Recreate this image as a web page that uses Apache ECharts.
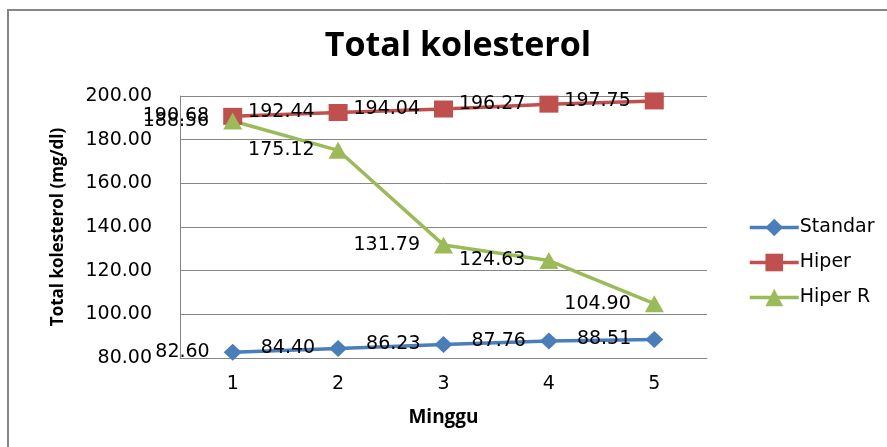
<!DOCTYPE html>
<html>
<head>
<meta charset="utf-8">
<script src="https://cdn.jsdelivr.net/npm/echarts@6/dist/echarts.min.js"></script>
<style>
  html, body { margin: 0; padding: 0; background: #fff; }
  #chart { width: 887px; height: 447px; }
</style>
</head>
<body>
<div id="chart"></div>
<script>
// Weekly total cholesterol (mg/dl) per group
const weeks = ['1', '2', '3', '4', '5'];
const standar = [82.60, 84.40, 86.23, 87.76, 88.51];
const hiper = [190.68, 192.44, 194.04, 196.27, 197.75];
const hiperR = [188.56, 175.12, 131.79, 124.63, 104.90];
const yTicks = { min: 80, max: 200, step: 20 };

const labelFont = 'DejaVu Sans, Verdana, sans-serif';
const headFont = '"Open Sans", Lato, sans-serif';

function makeSeries(name, data, color, symbol, size) {
  return {
    name: name,
    type: 'line',
    data: data,
    symbol: symbol,
    symbolSize: size,
    lineStyle: { color: color, width: 3.5 },
    itemStyle: { color: color },
    label: {
      show: true,
      position: 'left',
      distance: 14,
      color: '#000',
      fontFamily: labelFont,
      fontSize: 19,
      formatter: p => p.value.toFixed(2)
    },
    emphasis: { disabled: true },
    z: 3
  };
}

const chart = echarts.init(document.getElementById('chart'));
chart.setOption({
  animation: false,
  backgroundColor: '#fff',
  title: {
    text: 'Total kolesterol',
    left: 453,
    textAlign: 'center',
    top: 24,
    textStyle: { fontFamily: headFont, fontWeight: 'bold', fontSize: 34, color: '#000' }
  },
  graphic: [{
    type: 'rect',
    shape: { x: 8, y: 10, width: 900, height: 460 },
    style: { fill: 'none', stroke: '#868686', lineWidth: 2 },
    silent: true
  }],
  legend: {
    orient: 'vertical',
    left: 743,
    top: 213,
    itemWidth: 49,
    itemHeight: 22,
    itemGap: 16,
    lineStyle: { width: 3.5 },
    textStyle: { fontFamily: labelFont, fontSize: 19, color: '#000', padding: [0, 0, 0, -4] },
    data: ['Standar', 'Hiper', 'Hiper R']
  },
  grid: { left: 180, right: 180, top: 96, bottom: 89 },
  xAxis: {
    type: 'category',
    data: weeks,
    boundaryGap: true,
    name: 'Minggu',
    nameLocation: 'middle',
    nameGap: 50,
    nameTextStyle: { fontFamily: headFont, fontWeight: 'bold', fontSize: 19, color: '#000' },
    axisLine: { lineStyle: { color: '#868686', width: 1 } },
    axisTick: { show: false },
    axisLabel: { fontFamily: labelFont, fontSize: 19, color: '#000', margin: 17 }
  },
  yAxis: {
    type: 'value',
    min: yTicks.min,
    max: yTicks.max,
    interval: yTicks.step,
    name: 'Total kolesterol (mg/dl)',
    nameLocation: 'middle',
    nameGap: 113,
    nameTextStyle: { fontFamily: headFont, fontWeight: 'bold', fontSize: 17, color: '#000' },
    axisLine: { show: true, lineStyle: { color: '#868686', width: 1 } },
    axisTick: { show: false },
    splitLine: { lineStyle: { color: '#868686', width: 1 } },
    axisLabel: {
      fontFamily: labelFont, fontSize: 19, color: '#000', margin: 28,
      formatter: v => v.toFixed(2)
    }
  },
  series: [
    makeSeries('Standar', standar, '#4A7EBB', 'diamond', [18, 17]),
    makeSeries('Hiper', hiper, '#C0504D', 'rect', [19, 17]),
    makeSeries('Hiper R', hiperR, '#9BBB59', 'triangle', [19, 17])
  ]
});
</script>
</body>
</html>
